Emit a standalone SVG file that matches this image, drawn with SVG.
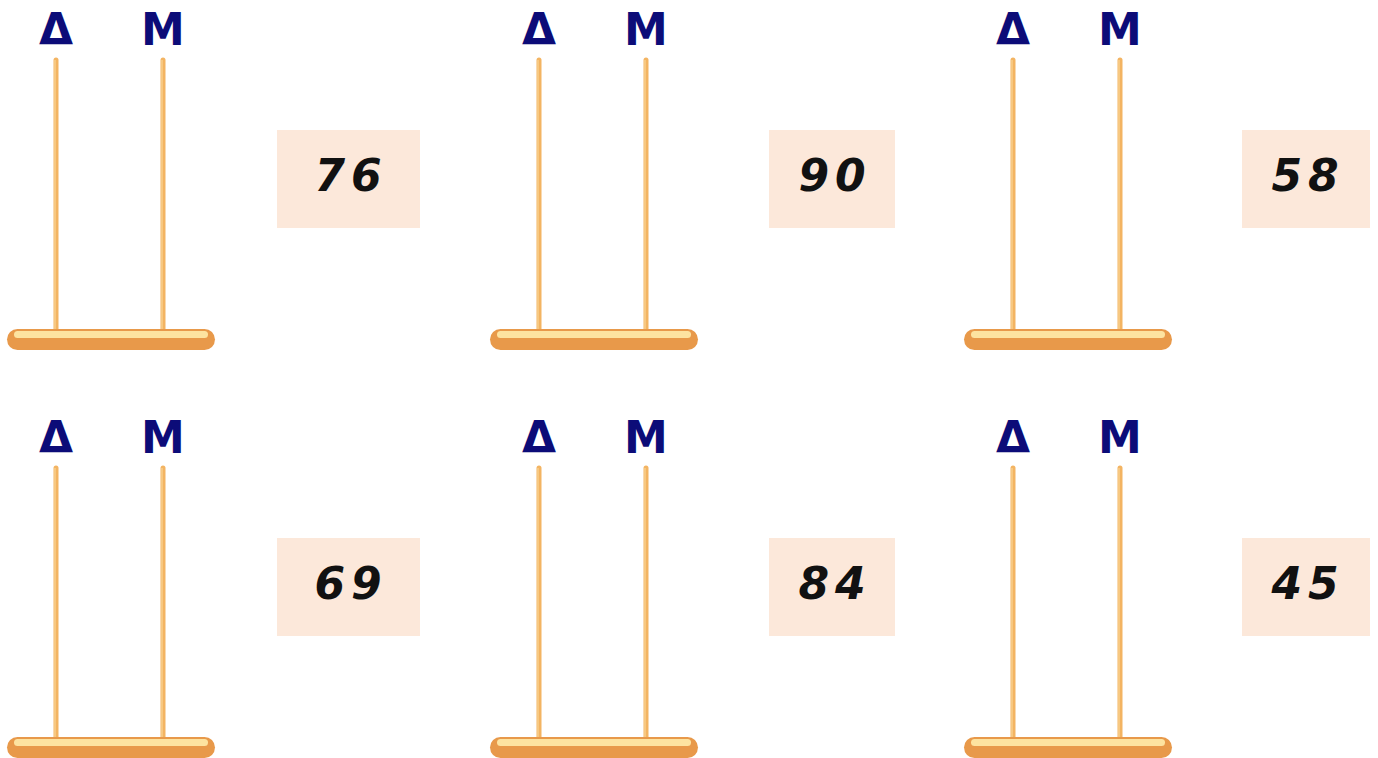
<svg xmlns="http://www.w3.org/2000/svg" width="1378" height="758" viewBox="0 0 1378 758">
<style>
.lbl{font-family:"DejaVu Sans",sans-serif;font-weight:bold;font-size:44px;fill:#0c0c78;text-anchor:middle}
.num{font-family:"DejaVu Sans",sans-serif;font-weight:bold;font-style:italic;font-size:44px;fill:#111;text-anchor:middle;letter-spacing:6px}
.box{fill:#fce8da}
.rod{stroke:#f3b462;stroke-width:5;stroke-linecap:round}
.rodhl{stroke:#f9cf8c;stroke-width:1.5}
.base{fill:#e8994a}
.basehl{fill:#fde3a0}
</style>
<defs>
<g id="abacus">
<text class="lbl" x="56" y="45">Δ</text>
<text class="lbl" x="163" y="45">M</text>
<line class="rod" x1="56" y1="60" x2="56" y2="332"/>
<line class="rod" x1="163" y1="60" x2="163" y2="332"/>
<line class="rodhl" x1="55" y1="60" x2="55" y2="330"/>
<line class="rodhl" x1="162" y1="60" x2="162" y2="330"/>
<rect class="base" x="7" y="329" width="208" height="21" rx="10.5"/>
<rect class="basehl" x="14" y="331" width="194" height="7" rx="3.5"/>
</g>
</defs>
<g id="abacus1"><use href="#abacus"/></g>
<g id="abacus2"><use href="#abacus" x="483"/></g>
<g id="abacus3"><use href="#abacus" x="957"/></g>
<g id="abacus4"><use href="#abacus" y="408"/></g>
<g id="abacus5"><use href="#abacus" x="483" y="408"/></g>
<g id="abacus6"><use href="#abacus" x="957" y="408"/></g>
<g id="box1"><rect class="box" x="277" y="130" width="143" height="98"/><text class="num" x="351" y="191">76</text></g>
<g id="box2"><rect class="box" x="769" y="130" width="126" height="98"/><text class="num" x="835" y="191">90</text></g>
<g id="box3"><rect class="box" x="1242" y="130" width="128" height="98"/><text class="num" x="1308" y="191">58</text></g>
<g id="box4"><rect class="box" x="277" y="538" width="143" height="98"/><text class="num" x="351" y="599">69</text></g>
<g id="box5"><rect class="box" x="769" y="538" width="126" height="98"/><text class="num" x="835" y="599">84</text></g>
<g id="box6"><rect class="box" x="1242" y="538" width="128" height="98"/><text class="num" x="1308" y="599">45</text></g>
<g id="connectors"></g>
</svg>
